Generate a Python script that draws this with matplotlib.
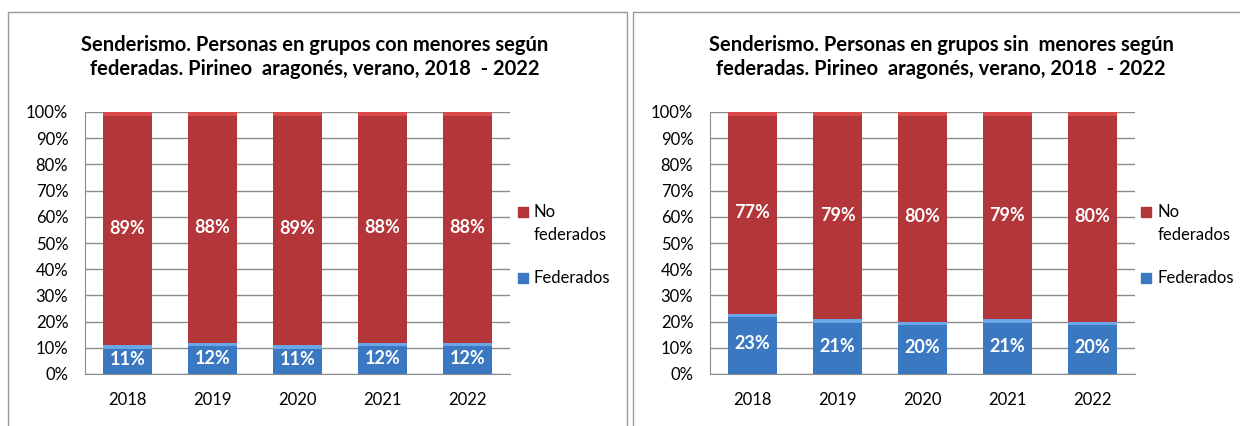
import matplotlib.pyplot as plt
from matplotlib.patches import Rectangle

plt.rcParams['font.family'] = ['Lato', 'DejaVu Sans']

# data
years = ['2018', '2019', '2020', '2021', '2022']
con_federados = [11, 12, 11, 12, 12]
con_no_federados = [89, 88, 89, 88, 88]
sin_federados = [23, 21, 20, 21, 20]
sin_no_federados = [77, 79, 80, 79, 80]

titles = [
    'Senderismo. Personas en grupos con menores según\nfederadas. Pirineo  aragonés, verano, 2018  - 2022',
    'Senderismo. Personas en grupos sin  menores según\nfederadas. Pirineo  aragonés, verano, 2018  - 2022',
]
series = [(con_federados, con_no_federados), (sin_federados, sin_no_federados)]

RED = '#B3363A'
BLUE = '#3B78C2'
GRID = '#8C8C8C'

fig = plt.figure(figsize=(12.4, 4.26), dpi=100)

# panel frames
fig.add_artist(Rectangle((8 / 1240, -0.1), (627 - 8) / 1240, 1.1 - 12 / 426,
                         transform=fig.transFigure, fill=False, edgecolor='#9A9A9A', lw=1))
fig.add_artist(Rectangle((633 / 1240, -0.1), 0.5, 1.1 - 12 / 426,
                         transform=fig.transFigure, fill=False, edgecolor='#9A9A9A', lw=1))

ax_left = [85 / 1240, 710 / 1240]
title_x = [315 / 1240, 941 / 1240]
W = 0.58

for i in range(2):
    fed, nofed = series[i]
    ax = fig.add_axes([ax_left[i], 52 / 426, 425 / 1240, 262 / 426])
    x = range(len(years))
    fed_frac = [v / 100 for v in fed]
    nofed_frac = [v / 100 for v in nofed]
    ax.bar(x, fed_frac, width=W, color=BLUE, zorder=3)
    ax.bar(x, nofed_frac, width=W, bottom=fed_frac, color=RED, zorder=3)
    # lighter top bevel
    ax.bar(x, [0.014] * 5, width=W, bottom=[f - 0.014 for f in fed_frac],
           color='#6AA6E8', zorder=4)
    ax.bar(x, [0.016] * 5, width=W, bottom=[1 - 0.016] * 5,
           color='#DB4A4A', zorder=4)
    for j in x:
        ax.text(j, fed_frac[j] / 2, f'{fed[j]}%', ha='center', va='center',
                color='white', fontsize=13, fontweight='bold', zorder=5)
        ax.text(j, fed_frac[j] + nofed_frac[j] / 2, f'{nofed[j]}%', ha='center',
                va='center', color='white', fontsize=13, fontweight='bold', zorder=5)

    ax.set_xlim(-0.5, 4.5)
    ax.set_ylim(0, 1)
    ax.set_yticks([k / 10 for k in range(11)])
    ax.set_yticklabels([f'{k * 10}%' for k in range(11)])
    ax.set_xticks(list(x))
    ax.set_xticklabels(years)
    ax.tick_params(axis='y', length=0, pad=12, labelsize=12)
    ax.tick_params(axis='x', length=0, pad=13, labelsize=12)
    ax.grid(axis='y', color=GRID, lw=1, zorder=0)
    for s in ['top', 'right']:
        ax.spines[s].set_visible(False)
    for s in ['left', 'bottom']:
        ax.spines[s].set_color(GRID)

    fig.text(title_x[i], 1 - 57 / 426, titles[i], ha='center', va='center',
             fontsize=14.5, fontweight='bold', linespacing=1.3)

    # legend, drawn by hand so the marker sits on the first line
    mk = 1.030 if i == 0 else 1.027
    tx = mk + 0.025
    ax.scatter([mk], [0.618], marker='s', s=60, color=RED, transform=ax.transAxes,
               clip_on=False)
    ax.scatter([mk], [0.366], marker='s', s=60, color=BLUE, transform=ax.transAxes,
               clip_on=False)
    ax.text(tx, 0.618, 'No', transform=ax.transAxes, va='center', ha='left', fontsize=12)
    ax.text(tx, 0.530, 'federados', transform=ax.transAxes, va='center', ha='left',
            fontsize=12)
    ax.text(tx, 0.366, 'Federados', transform=ax.transAxes, va='center', ha='left',
            fontsize=12)

fig.savefig('out.png', dpi=100)
